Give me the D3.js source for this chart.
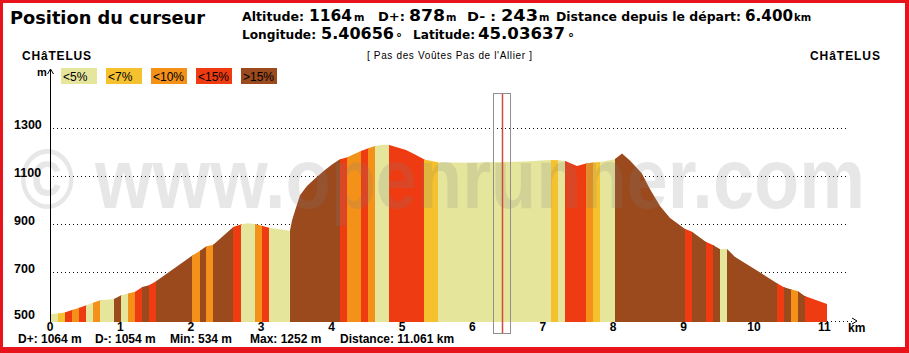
<!DOCTYPE html>
<html>
<head>
<meta charset="utf-8">
<script src="https://cdn.jsdelivr.net/npm/d3@7"></script>
<style>
  body { margin: 0; background: #fff; }
  svg { display: block; }
</style>
</head>
<body>
<div class="container"></div>
<script>
// profile outline (km, m)
const distanceKm = [
  0.000, 0.099, 0.195, 0.298, 0.393, 0.493, 0.597, 0.700, 0.895, 0.990,
  1.094, 1.197, 1.297, 1.392, 1.487, 2.003, 2.112, 2.202, 2.305, 2.589,
  2.695, 2.798, 2.898, 2.993, 3.097, 3.395, 3.423, 3.466, 3.537, 3.636,
  3.750, 3.878, 3.991, 4.105, 4.200, 4.403, 4.499, 4.602, 4.702, 4.805,
  5.043, 5.185, 5.303, 5.493, 5.952, 6.378, 6.804, 7.017, 7.107, 7.202,
  7.305, 7.472, 7.599, 7.699, 7.803, 8.007, 8.111, 8.224, 8.391, 8.509,
  8.651, 8.793, 9.001, 9.105, 9.300, 9.403, 9.499, 9.607, 9.712, 9.901,
  10.090, 10.317, 10.412, 10.507, 10.611, 10.706, 11.023
];
const altitudeM = [
  525, 527, 531, 542, 550, 560, 572, 582, 587, 602,
  610, 618, 638, 645, 660, 768, 788, 806, 814, 888,
  898, 903, 900, 893, 884, 872, 915, 955, 1020, 1058,
  1090, 1122, 1148, 1170, 1177, 1204, 1215, 1225, 1230, 1229,
  1208, 1187, 1169, 1157, 1155, 1158, 1161, 1166, 1167, 1166,
  1162, 1142, 1152, 1156, 1158, 1170, 1194, 1165, 1111, 1045,
  975, 925, 880, 868, 826, 812, 796, 795, 764, 729,
  695, 652, 636, 628, 620, 600, 567
];

// slope bands: start km and slope class (index into slopeLabels)
const bandStartKm = [
  0.000, 0.099, 0.195, 0.298, 0.393, 0.493, 0.597, 0.700, 0.895, 0.990,
  1.094, 1.197, 1.297, 1.392, 1.487, 2.003, 2.112, 2.202, 2.305, 2.589,
  2.695, 2.898, 2.993, 3.097, 3.395, 4.105, 4.200, 4.403, 4.499, 4.602,
  4.805, 5.303, 5.493, 7.107, 7.202, 7.305, 7.599, 7.699, 7.803, 8.007,
  9.001, 9.105, 9.300, 9.403, 9.499, 9.607, 10.317, 10.412, 10.507, 10.611,
  10.706
];
const bandClass = [
  0, 1, 3, 2, 3, 0, 2, 0, 4, 0,
  2, 3, 4, 3, 4, 2, 4, 2, 4, 3,
  0, 2, 3, 0, 4, 3, 2, 3, 2, 0,
  3, 1, 0, 1, 0, 3, 2, 1, 0, 4,
  3, 4, 3, 4, 0, 4, 3, 4, 2, 4,
  3
];

const slopeLabels = ['<5%', '<7%', '<10%', '<15%', '>15%'];
const altTicks = [500, 700, 900, 1100, 1300];
const kmTicks = d3.range(0, 12);

const cursorKm = 6.4;
const cursorAlt = 1164;
const cursorUp = 878;
const cursorDown = 243;
const cursorLon = '5.40656';
const cursorLat = '45.03637';

const totalUp = 1064;
const totalDown = 1054;
const altMin = 534;
const altMax = 1252;
const totalKm = 11.061;

const width = 909;
const height = 353;
const colors = ['#e6e59c', '#f5c12f', '#f39119', '#ee3b12', '#9b4a1e'];
const red = '#e8141b';

const svg = d3
  .select('.container')
  .append('svg')
  .attr('width', width)
  .attr('height', height);

const x = d3.scaleLinear().domain([0, 11]).range([51, 51 + 70.4 * 11]);
const y = d3.scaleLinear().domain([500, 1300]).range([320, 128]);

// dotted grid
svg
  .append('g')
  .selectAll('line')
  .data(altTicks.slice(1))
  .enter()
  .append('line')
  .attr('x1', 53)
  .attr('x2', 848)
  .attr('y1', (d) => Math.round(y(d)) + 0.5)
  .attr('y2', (d) => Math.round(y(d)) + 0.5)
  .attr('stroke', '#111')
  .attr('stroke-dasharray', '1,3');

// x axis dotted line + arrow
svg
  .append('line')
  .attr('x1', 51)
  .attr('x2', 852)
  .attr('y1', 321.5)
  .attr('y2', 321.5)
  .attr('stroke', '#111')
  .attr('stroke-dasharray', '1,3');
svg
  .append('path')
  .attr('d', 'M852,318 L857,321 L852,324')
  .attr('fill', 'none')
  .attr('stroke', '#000');

// profile
const points = distanceKm.map((d, i) => ({ km: d, alt: altitudeM[i] }));
const area = d3
  .area()
  .x((d) => x(d.km))
  .y0(y(492))
  .y1((d) => y(d.alt));

svg
  .append('clipPath')
  .attr('id', 'profile-clip')
  .append('path')
  .attr('d', area(points));

const lastKm = distanceKm[distanceKm.length - 1];
svg
  .append('g')
  .attr('clip-path', 'url(#profile-clip)')
  .selectAll('rect')
  .data(bandStartKm)
  .enter()
  .append('rect')
  .attr('x', (d) => Math.round(x(d)))
  .attr('y', 60)
  .attr('width', (d, i) => {
    const next = i < bandStartKm.length - 1 ? bandStartKm[i + 1] : lastKm;
    return Math.round(x(next)) - Math.round(x(d)) + 1;
  })
  .attr('height', 280)
  .attr('fill', (d, i) => colors[bandClass[i]]);

// watermark
svg
  .append('text')
  .attr('x', 20)
  .attr('y', 208)
  .attr('font-family', 'Liberation Sans, Arial, sans-serif')
  .attr('font-weight', 'bold')
  .attr('font-size', 86)
  .attr('textLength', 845)
  .attr('lengthAdjust', 'spacingAndGlyphs')
  .attr('fill', '#808080')
  .attr('opacity', 0.18)
  .text('© www.openrunner.com');

// cursor
svg
  .append('rect')
  .attr('x', Math.round(x(cursorKm)) - 8.5)
  .attr('y', 93.5)
  .attr('width', 17)
  .attr('height', 240)
  .attr('fill', 'none')
  .attr('stroke', '#8f8f8f');
svg
  .append('line')
  .attr('x1', Math.round(x(cursorKm)) + 0.5)
  .attr('x2', Math.round(x(cursorKm)) + 0.5)
  .attr('y1', 94)
  .attr('y2', 333)
  .attr('stroke', '#d2483c')
  .attr('stroke-width', 1.5);

// y axis line + arrow
svg
  .append('line')
  .attr('x1', 50.5)
  .attr('x2', 50.5)
  .attr('y1', 70)
  .attr('y2', 322)
  .attr('stroke', '#000');
svg
  .append('path')
  .attr('d', 'M47.5,74 L50.5,69 L53.5,74')
  .attr('fill', 'none')
  .attr('stroke', '#000');

const axisFont = 'Liberation Sans, Arial, sans-serif';

const yAxis = d3.axisLeft(y).tickValues(altTicks).tickSize(0).tickFormat(d3.format('d'));
const yg = svg.append('g').attr('transform', 'translate(51,0)').call(yAxis);
yg.select('.domain').remove();
yg.selectAll('text')
  .attr('x', -37)
  .attr('dy', 0)
  .attr('text-anchor', 'start')
  .attr('font-family', axisFont)
  .attr('font-weight', 'bold')
  .attr('font-size', 12.5)
  .attr('fill', '#000');
yg.selectAll('.tick')
  .filter((d) => d === 500)
  .select('text')
  .attr('dy', -2);

const xAxis = d3.axisBottom(x).tickValues(kmTicks).tickSize(0).tickFormat(d3.format('d'));
const xg = svg.append('g').attr('transform', 'translate(0,331)').call(xAxis);
xg.select('.domain').remove();
xg.selectAll('text')
  .attr('y', 0)
  .attr('dy', 0)
  .attr('dx', -1.5)
  .attr('font-family', axisFont)
  .attr('font-weight', 'bold')
  .attr('font-size', 12)
  .attr('fill', '#000');

svg
  .append('text')
  .attr('x', 848)
  .attr('y', 332)
  .attr('font-family', axisFont)
  .attr('font-weight', 'bold')
  .attr('font-size', 12)
  .text('km');
svg
  .append('text')
  .attr('x', 37)
  .attr('y', 76)
  .attr('font-family', axisFont)
  .attr('font-weight', 'bold')
  .attr('font-size', 11)
  .text('m');

// legend
const legend = svg.append('g').attr('transform', 'translate(61,68)');
legend
  .selectAll('rect')
  .data(slopeLabels)
  .enter()
  .append('rect')
  .attr('x', (d, i) => i * 45)
  .attr('y', 0)
  .attr('width', 36)
  .attr('height', 16)
  .attr('fill', (d, i) => colors[i]);
legend
  .selectAll('text')
  .data(slopeLabels)
  .enter()
  .append('text')
  .attr('x', (d, i) => i * 45 + 2)
  .attr('y', 12.5)
  .attr('font-family', axisFont)
  .attr('font-size', 12)
  .attr('fill', '#000')
  .text((d) => d);

// place names
svg
  .append('text')
  .attr('x', 22)
  .attr('y', 60)
  .attr('font-family', axisFont)
  .attr('font-weight', 'bold')
  .attr('font-size', 12)
  .attr('textLength', 69)
  .text('CHâTELUS');
svg
  .append('text')
  .attr('x', 810)
  .attr('y', 60)
  .attr('font-family', axisFont)
  .attr('font-weight', 'bold')
  .attr('font-size', 12)
  .attr('textLength', 70)
  .text('CHâTELUS');
svg
  .append('text')
  .attr('x', 367)
  .attr('y', 59)
  .attr('font-family', axisFont)
  .attr('font-size', 10)
  .attr('textLength', 165)
  .text("[ Pas des Voûtes Pas de l'Allier ]");

// header
const head = svg
  .append('g')
  .attr('font-family', 'DejaVu Sans, Verdana, sans-serif')
  .attr('font-weight', 'bold')
  .attr('fill', '#000');

const put = (px, py, txt, size, len) => {
  const t = head
    .append('text')
    .attr('x', px)
    .attr('y', py)
    .attr('font-size', size)
    .text(txt);
  if (len) t.attr('textLength', len).attr('lengthAdjust', 'spacingAndGlyphs');
  return t;
};

put(10, 24, 'Position du curseur', 17, 195);

put(242, 21, 'Altitude:', 11.5, 62);
put(309, 21, cursorAlt, 15, 43);
put(354, 21, 'm', 10);
put(378, 21, 'D+:', 11.5, 27);
put(409, 21, cursorUp, 15, 36);
put(446, 21, 'm', 10);
put(467, 21, 'D- :', 11.5, 29);
put(501, 21, cursorDown, 15, 37);
put(539, 21, 'm', 10);
put(556, 21, 'Distance depuis le départ:', 11.5, 185);
put(745, 21, cursorKm.toFixed(3), 15, 48);
put(794, 21, 'km', 10);

put(242, 39, 'Longitude:', 11.5, 74);
put(321, 39, cursorLon, 15, 73);
put(396, 42, '°', 12);
put(413, 39, 'Latitude:', 11.5, 62);
put(478, 39, cursorLat, 15, 87);
put(568, 42, '°', 12);

// footer summary
const foot = svg
  .append('g')
  .attr('font-family', axisFont)
  .attr('font-weight', 'bold')
  .attr('font-size', 12);
foot.append('text').attr('x', 18).attr('y', 343).text(`D+: ${totalUp} m`);
foot.append('text').attr('x', 95).attr('y', 343).text(`D-: ${totalDown} m`);
foot.append('text').attr('x', 170).attr('y', 343).text(`Min: ${altMin} m`);
foot.append('text').attr('x', 250).attr('y', 343).text(`Max: ${altMax} m`);
foot.append('text').attr('x', 340).attr('y', 343).text(`Distance: ${totalKm.toFixed(3)} km`);

// red frame
svg.append('rect').attr('x', 0).attr('y', 0).attr('width', width).attr('height', 3).attr('fill', red);
svg.append('rect').attr('x', 0).attr('y', 0).attr('width', 3).attr('height', height).attr('fill', red);
svg.append('rect').attr('x', width - 4).attr('y', 0).attr('width', 4).attr('height', height).attr('fill', red);
svg.append('rect').attr('x', 0).attr('y', height - 6).attr('width', width).attr('height', 6).attr('fill', red);
</script>
</body>
</html>
